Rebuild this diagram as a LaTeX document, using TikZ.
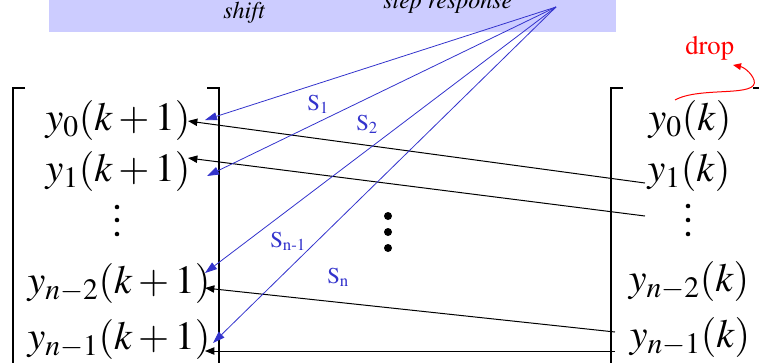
\documentclass[tikz,border=0pt]{standalone}
\usepackage[T1]{fontenc}
\usepackage{mathptmx}
\usetikzlibrary{arrows.meta}

\definecolor{boxblue}{RGB}{204,204,255}
\definecolor{fanblue}{RGB}{51,51,204}
\newcommand{\entfont}{\fontsize{30}{34}\selectfont\medmuskip 2.5mu\relax}
\tikzset{
  entry/.style={font=\entfont, inner sep=0pt, anchor=base},
  slabel/.style={font=\fontsize{17}{20}\selectfont, text=fanblue, inner sep=0pt, anchor=base west},
  bracket/.style={line width=1.5pt},
  shiftarrow/.style={line width=0.75pt, -{Triangle[length=7pt,width=5.5pt]}},
  fanarrow/.style={fanblue, line width=0.6pt, -{Triangle[length=9pt,width=6pt]}},
}

\begin{document}
\begin{tikzpicture}[x=0.75pt,y=-0.75pt]
    \useasboundingbox (0,0) rectangle (759,362);
    % header band
    \fill[boxblue] (49,0) rectangle (616,32);
    \node[font=\fontsize{18}{22}\selectfont\itshape, inner sep=0pt, anchor=base] (shift) at (244,18) {shift};
    \node[font=\fontsize{18}{22}\selectfont\itshape, inner sep=0pt, anchor=base west] (stepresp) at (383,8) {step response};

    % vector at k+1
    \draw[bracket] (25,88) -- (13,88) -- (13,370);
    \draw[bracket] (207,88) -- (219,88) -- (219,370);
    \node[entry] (l0) at (118,130) {$y_0(k+1)$};
    \node[entry] (l1) at (118,181) {$y_1(k+1)$};
    \node[entry] (ln2) at (119,293) {$y_{n-2}(k+1)$};
    \node[entry] (ln1) at (119,349) {$y_{n-1}(k+1)$};
    \foreach \y in {207,220,234}
        \fill (117,\y) circle[radius=1.7pt];

    % vector at k
    \draw[bracket] (623,88) -- (611,88) -- (611,370);
    \draw[bracket] (753,88) -- (766,88) -- (766,370);
    \node[entry] (r0) at (690,130) {$y_0(k)$};
    \node[entry] (r1) at (689,181) {$y_1(k)$};
    \node[entry] (rn2) at (689,291) {$y_{n-2}(k)$};
    \node[entry] (rn1) at (690,347) {$y_{n-1}(k)$};
    \foreach \y in {206,220,234}
        \fill (688,\y) circle[radius=1.7pt];

    % middle dots
    \foreach \y in {216,232,248}
        \fill (388,\y) circle[radius=3pt];

    % shift
    \coordinate (s0) at (645,183);
    \coordinate (s1) at (645,216);
    \coordinate (sn2) at (615,332);
    \coordinate (sn1) at (615,351);
    \coordinate (t0) at (188,121);
    \coordinate (t1) at (188,158);
    \coordinate (tn2) at (205,288);
    \coordinate (tn1) at (205,351);
    \draw[shiftarrow] (s0) -- (t0);
    \draw[shiftarrow] (s1) -- (t1);
    \draw[shiftarrow] (sn2) -- (tn2);
    \draw[shiftarrow] (sn1) -- (tn1);

    % step response fan
    \coordinate (apex) at (556,7);
    \coordinate (f0) at (205,120);
    \coordinate (f1) at (207,176);
    \coordinate (fn2) at (205,273);
    \coordinate (fn1) at (213,343);
    \foreach \t in {f0,f1,fn2,fn1}
        \draw[fanarrow] (apex) -- (\t);
    \node[slabel] (S1) at (307,110) {S\textsubscript{1}};
    \node[slabel] (S2) at (356,130) {S\textsubscript{2}};
    \node[slabel] (Sn1) at (270,247) {S\textsubscript{n-1}};
    \node[slabel] (Sn) at (327,283) {S\textsubscript{n}};

    % drop
    \node[font=\fontsize{20}{24}\selectfont, text=red, inner sep=0pt, anchor=base west] (drop) at (685,54) {drop};
    \coordinate (dropfrom) at (675,100);
    \coordinate (dropto) at (733,65);
    \draw[red, line width=0.75pt, -{Triangle[length=6pt,width=5pt]}] (dropfrom) .. controls (700,86) and (760,98) .. (754,80) .. controls (751,72) and (743,67) .. (dropto);
\end{tikzpicture}
\end{document}
